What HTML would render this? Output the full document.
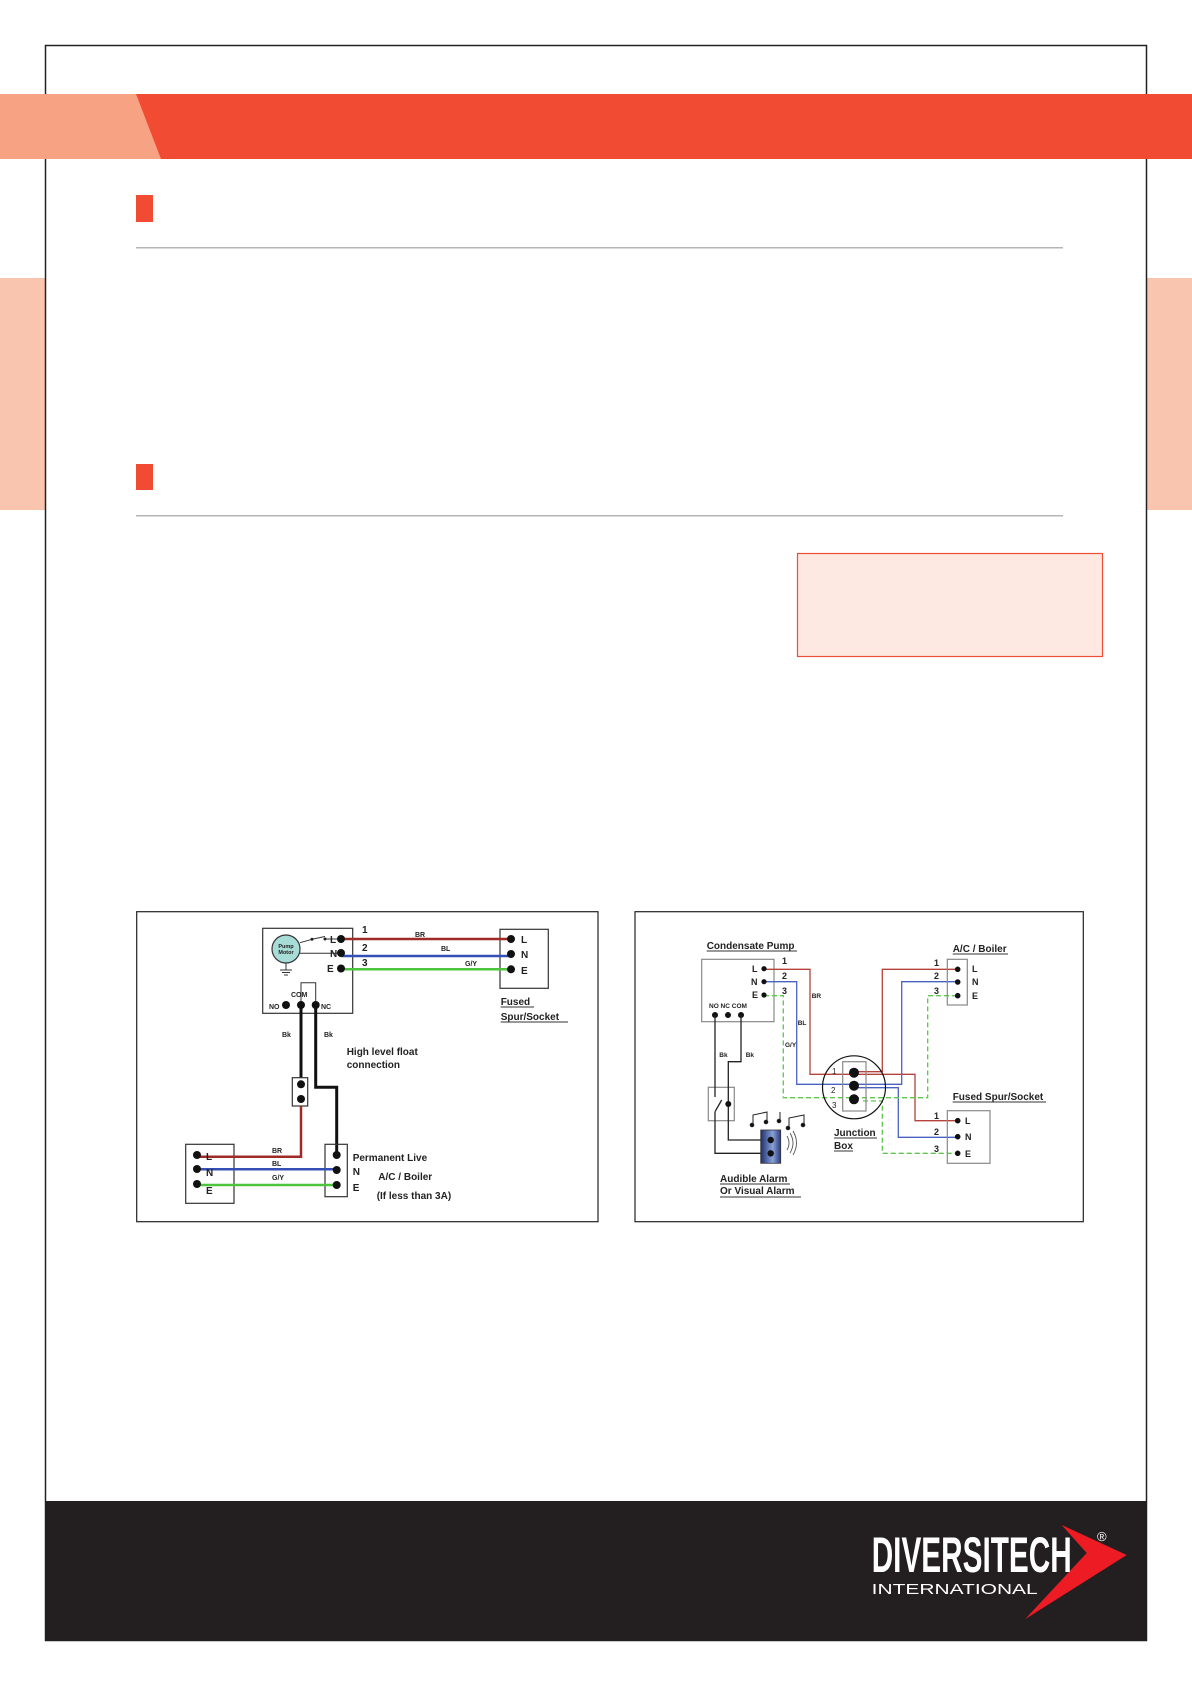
<!DOCTYPE html>
<html><head><meta charset="utf-8"><style>
html,body{margin:0;padding:0;background:#fff;}
svg{display:block;}
text{font-family:"Liberation Sans",Arial,sans-serif;font-weight:bold;fill:#222;}
text.n{font-weight:normal;}
</style></head><body>
<svg width="1192" height="1685" viewBox="0 0 1192 1685" xmlns="http://www.w3.org/2000/svg">
<rect x="0" y="278" width="46" height="232" fill="#fac5ae"/>
<rect x="1146" y="278" width="46" height="232" fill="#fac5ae"/>
<rect x="45.5" y="45.5" width="1101" height="1595" fill="none" stroke="#222" stroke-width="1.5"/>
<rect x="0" y="94" width="1192" height="65" fill="#f24b34"/>
<polygon points="0,94 136,94 161,159 0,159" fill="#f7a283"/>
<rect x="136" y="195" width="17" height="27" fill="#f24b34"/>
<rect x="136" y="247" width="927" height="1.5" fill="#b5b5b5"/>
<rect x="136" y="464" width="17" height="26" fill="#f24b34"/>
<rect x="136" y="515" width="927" height="1.5" fill="#b5b5b5"/>
<rect x="797.5" y="553.5" width="305" height="103" fill="#fde9e1" stroke="#f04e37" stroke-width="1.2"/>

<rect x="136.7" y="911.7" width="461.3" height="310" fill="#fff" stroke="#222" stroke-width="1.2"/>
<rect x="262.7" y="928.3" width="90" height="85" fill="none" stroke="#333" stroke-width="1.2"/>
<circle cx="286" cy="949" r="14" fill="#a8dcd6" stroke="#333" stroke-width="1.2"/>
<text x="286" y="948" font-size="5.5" text-anchor="middle">Pump</text>
<text x="286" y="954" font-size="5.5" text-anchor="middle">Motor</text>
<path d="M286 963 V970 M280 970 H292 M282 972.5 H290 M284 975 H288" stroke="#333" stroke-width="1"/>
<path d="M300 942.7 L312 939.3 M312 939.3 L325 936.5 M326 939 H340.7 M300 953.3 H340.7" stroke="#333" stroke-width="1" fill="none"/>
<circle cx="312" cy="939.3" r="1.5" fill="#222"/><circle cx="325" cy="939" r="1.5" fill="#222"/>
<text x="330" y="943" font-size="10">L</text>
<text x="330" y="957" font-size="10">N</text>
<text x="327" y="972" font-size="10">E</text>
<text x="362" y="933" font-size="10">1</text>
<text x="362" y="951" font-size="10">2</text>
<text x="362" y="966" font-size="10">3</text>
<text x="415" y="937" font-size="7">BR</text>
<text x="441" y="951" font-size="7">BL</text>
<text x="465" y="966" font-size="7">G/Y</text>
<rect x="500" y="929.3" width="48.3" height="59" fill="none" stroke="#333" stroke-width="1.2"/>
<line x1="340.7" y1="939" x2="511" y2="939" stroke="#9e2b25" stroke-width="2.5"/>
<line x1="340.7" y1="956" x2="511" y2="956" stroke="#3550b5" stroke-width="2.5"/>
<line x1="340.7" y1="969.3" x2="511" y2="969.3" stroke="#4cc43e" stroke-width="2.5"/>
<g fill="#111"><circle cx="341" cy="939" r="4"/><circle cx="341" cy="953" r="4"/><circle cx="341" cy="968.5" r="4"/>
<circle cx="511" cy="939" r="4"/><circle cx="511" cy="954" r="4"/><circle cx="511" cy="969.3" r="4"/></g>
<text x="521" y="943" font-size="10">L</text><text x="521" y="958" font-size="10">N</text><text x="521" y="974" font-size="10">E</text>
<text x="500.7" y="1005" font-size="10">Fused</text>
<text x="500.7" y="1020" font-size="10">Spur/Socket</text>
<line x1="500.7" y1="1022" x2="568" y2="1022" stroke="#333" stroke-width="1"/>
<line x1="500.7" y1="1007" x2="534" y2="1007" stroke="#333" stroke-width="1"/>
<path d="M301 1005 V982.7 H315.7 V1005" stroke="#333" stroke-width="1" fill="none"/>
<text x="269" y="1009" font-size="7">NO</text>
<text x="291" y="997" font-size="7">COM</text>
<text x="321" y="1009" font-size="7">NC</text>
<path d="M301 1005 V1078" stroke="#111" stroke-width="3" fill="none"/>
<path d="M315.7 1005 V1087.3 H336.7 V1155" stroke="#111" stroke-width="3" fill="none"/>
<g fill="#111"><circle cx="286" cy="1005" r="4"/><circle cx="301" cy="1005" r="4"/><circle cx="315.7" cy="1005" r="4"/></g>
<rect x="292.3" y="1077.7" width="15.4" height="28.3" fill="#fff" stroke="#333" stroke-width="1.2"/>
<circle cx="301" cy="1084.3" r="4" fill="#111"/><circle cx="301" cy="1099" r="4" fill="#111"/>
<text x="282" y="1037" font-size="7">Bk</text><text x="324" y="1037" font-size="7">Bk</text>
<text x="346.7" y="1055" font-size="10">High level float</text>
<text x="346.7" y="1068" font-size="10">connection</text>
<rect x="185.7" y="1144.3" width="48.3" height="59" fill="none" stroke="#333" stroke-width="1.2"/>
<rect x="325" y="1144.3" width="22.3" height="52.4" fill="none" stroke="#333" stroke-width="1.2"/>
<path d="M301 1106 V1156.7 H196.7" stroke="#9e2b25" stroke-width="2.5" fill="none"/>
<line x1="196.7" y1="1169.3" x2="336.7" y2="1169.3" stroke="#3550b5" stroke-width="2.5"/>
<line x1="196.7" y1="1185" x2="336.7" y2="1185" stroke="#4cc43e" stroke-width="2.5"/>
<g fill="#111"><circle cx="197" cy="1155" r="4"/><circle cx="197" cy="1169" r="4"/><circle cx="197" cy="1184" r="4"/>
<circle cx="336.7" cy="1155" r="4"/><circle cx="336.7" cy="1170" r="4"/><circle cx="336.7" cy="1185" r="4"/></g>
<text x="206" y="1160" font-size="10">L</text><text x="206" y="1176" font-size="10">N</text><text x="206" y="1194" font-size="10">E</text>
<text x="272" y="1153" font-size="7">BR</text><text x="272" y="1166" font-size="7">BL</text><text x="272" y="1180" font-size="7">G/Y</text>
<text x="352.7" y="1161" font-size="10">Permanent Live</text>
<text x="352.7" y="1175" font-size="10">N</text>
<text x="352.7" y="1191" font-size="10">E</text>
<text x="378.3" y="1180" font-size="10">A/C / Boiler</text>
<text x="376.7" y="1199" font-size="10">(If less than 3A)</text>

<rect x="635" y="911.7" width="448.3" height="310" fill="#fff" stroke="#222" stroke-width="1.2"/>
<text x="706.7" y="949" font-size="10">Condensate Pump</text>
<line x1="706.7" y1="951" x2="797" y2="951" stroke="#333" stroke-width="1"/>
<rect x="701.7" y="959.3" width="72.3" height="62.4" fill="none" stroke="#888" stroke-width="1.2"/>
<text x="752" y="972" font-size="9">L</text><text x="751" y="985" font-size="9">N</text><text x="752" y="998" font-size="9">E</text>
<text x="782" y="964" font-size="9">1</text><text x="782" y="979" font-size="9">2</text><text x="782" y="994" font-size="9">3</text>
<text x="709" y="1008" font-size="6.5">NO NC COM</text>
<g fill="none" stroke-width="1.3">
<path d="M764 969.3 H810 V1074.3 H915 V1120.7 H957.7" stroke="#b5423b"/>
<path d="M957.7 969.3 H882.3 V1071.7 H854" stroke="#b5423b"/>
<path d="M764 981.7 H796.7 V1084.3 H901.7 V981.7 H957.7" stroke="#4a62c4"/>
<path d="M854 1087.7 H898.3 V1137.3 H957.7" stroke="#4a62c4"/>
<path d="M764 995.7 H783.3 V1097.7 H927.7 V995.7 H957.7" stroke="#5fc74a" stroke-dasharray="5,3"/>
<path d="M863 1101 H882.3 V1153.3 H957.7" stroke="#5fc74a" stroke-dasharray="5,3"/>
</g>
<g fill="#111"><circle cx="764" cy="968.7" r="2.6"/><circle cx="764" cy="981.7" r="2.6"/><circle cx="764" cy="995" r="2.6"/>
<circle cx="715" cy="1015" r="3"/><circle cx="728" cy="1015" r="3"/><circle cx="741" cy="1015" r="3"/></g>
<text x="811.7" y="998" font-size="6.5">BR</text><text x="797.7" y="1025" font-size="6.5">BL</text><text x="785" y="1047" font-size="6.5">G/Y</text>
<circle cx="854" cy="1087.3" r="31.5" fill="none" stroke="#111" stroke-width="1.2"/>
<rect x="842.7" y="1061.7" width="23.3" height="49.3" fill="none" stroke="#888" stroke-width="1.2"/>
<g fill="#111"><circle cx="854" cy="1072.7" r="5"/><circle cx="854" cy="1085.7" r="5"/><circle cx="854" cy="1099.3" r="5"/></g>
<text class="n" x="832" y="1074" font-size="8">1</text><text class="n" x="831" y="1093" font-size="8">2</text><text class="n" x="832" y="1108" font-size="8">3</text>
<text x="834" y="1136" font-size="10">Junction</text><line x1="834" y1="1138" x2="877" y2="1138" stroke="#333"/>
<text x="834" y="1149" font-size="10">Box</text><line x1="834" y1="1151" x2="853" y2="1151" stroke="#333"/>
<text x="952.7" y="952" font-size="10">A/C / Boiler</text><line x1="952.7" y1="954" x2="1008" y2="954" stroke="#333"/>
<rect x="947.3" y="959.3" width="20" height="45.7" fill="none" stroke="#888" stroke-width="1.2"/>
<g fill="#111"><circle cx="957.7" cy="969.3" r="2.8"/><circle cx="957.7" cy="982" r="2.8"/><circle cx="957.7" cy="995.7" r="2.8"/>
<circle cx="957.7" cy="1120.7" r="2.8"/><circle cx="957.7" cy="1136.7" r="2.8"/><circle cx="957.7" cy="1153.3" r="2.8"/></g>
<text x="972" y="972" font-size="9">L</text><text x="972" y="985" font-size="9">N</text><text x="972" y="999" font-size="9">E</text>
<text x="934" y="966" font-size="9">1</text><text x="934" y="979" font-size="9">2</text><text x="934" y="994" font-size="9">3</text>
<text x="952.7" y="1100" font-size="10">Fused Spur/Socket</text><line x1="952.7" y1="1102" x2="1046" y2="1102" stroke="#333"/>
<rect x="947.3" y="1110.7" width="42.7" height="52.6" fill="none" stroke="#888" stroke-width="1.2"/>
<text x="965" y="1124" font-size="9">L</text><text x="965" y="1140" font-size="9">N</text><text x="965" y="1157" font-size="9">E</text>
<text x="934" y="1119" font-size="9">1</text><text x="934" y="1135" font-size="9">2</text><text x="934" y="1152" font-size="9">3</text>
<text x="719.3" y="1057" font-size="6.5">Bk</text><text x="745.7" y="1057" font-size="6.5">Bk</text>
<rect x="708.3" y="1087.3" width="26" height="33.4" fill="none" stroke="#888" stroke-width="1.2"/>
<g fill="none" stroke="#222" stroke-width="1.3">
<path d="M715 1015 V1097"/><path d="M715 1111.7 L721.7 1100"/><path d="M715 1111.7 V1153.3 H770.7"/>
<path d="M741 1015 V1061.7 H728.3 V1140 H770.7"/>
</g>
<circle cx="728.3" cy="1104" r="3" fill="#111"/>
<defs><linearGradient id="ag" x1="0" x2="1"><stop offset="0" stop-color="#1e2f6e"/><stop offset="0.6" stop-color="#8aa0d8"/><stop offset="1" stop-color="#2a3c80"/></linearGradient></defs>
<rect x="760.7" y="1130" width="20" height="33.3" fill="url(#ag)" stroke="#333" stroke-width="0.8"/>
<circle cx="770.7" cy="1140" r="3.2" fill="#111"/><circle cx="770.7" cy="1153.3" r="3.2" fill="#111"/>
<g fill="none" stroke="#555" stroke-width="0.9"><path d="M787 1136 q4 7 0 14"/><path d="M790 1133 q6 10 0 20"/><path d="M793 1131 q7 12 0 24"/></g>
<g stroke="#222" stroke-width="1" fill="#111">
<path d="M753 1125 V1115 L767 1112 V1122" fill="none"/><circle cx="752" cy="1125" r="1.8"/><circle cx="766" cy="1122" r="1.8"/>
<path d="M780 1121 V1112" fill="none"/><circle cx="779" cy="1121" r="1.8"/>
<path d="M789 1128 V1118 L804 1115 V1125" fill="none"/><circle cx="788" cy="1128" r="1.8"/><circle cx="803" cy="1125" r="1.8"/>
</g>
<text x="720" y="1182" font-size="10">Audible Alarm</text><line x1="720" y1="1184" x2="790" y2="1184" stroke="#333"/>
<text x="720" y="1194" font-size="10">Or Visual Alarm</text><line x1="720" y1="1197" x2="801" y2="1197" stroke="#333"/>

<rect x="45" y="1501" width="1102" height="140" fill="#231f20"/>
<polygon points="1061.7,1525 1126.7,1555 1025,1619.3 1086.7,1553" fill="#ed1c24"/>
<text x="871.7" y="1572" font-size="50" style="fill:#fff" textLength="200" lengthAdjust="spacingAndGlyphs">DIVERSITECH</text>
<text class="n" x="871.7" y="1594" font-size="15" style="fill:#fff;font-weight:normal" textLength="166" lengthAdjust="spacingAndGlyphs">INTERNATIONAL</text>
<text class="n" x="1097" y="1541" font-size="13" style="fill:#fff;font-weight:normal">®</text>
</svg>
</body></html>
